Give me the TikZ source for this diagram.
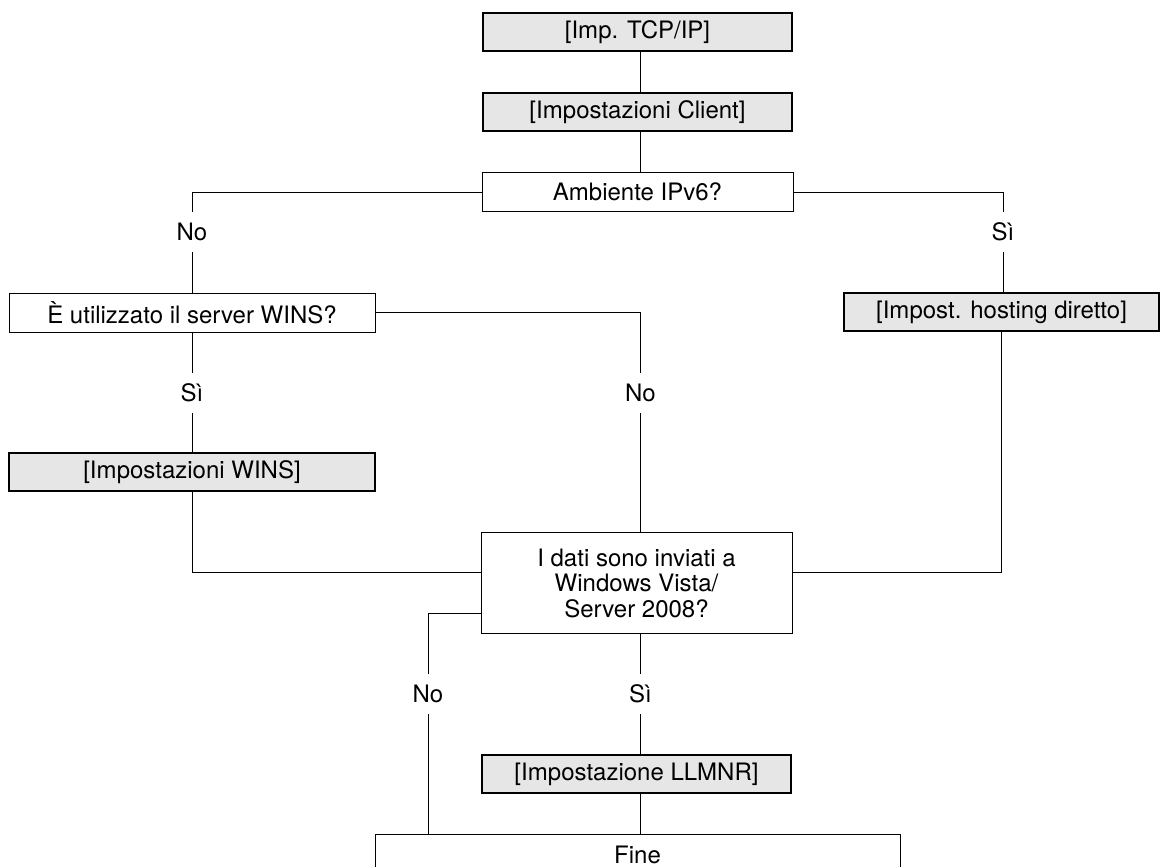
\documentclass[tikz,border=0pt]{standalone}
\usepackage{fontspec}
\setmainfont{TeX Gyre Heros}
\definecolor{boxgrey}{RGB}{230,230,230}
\tikzset{
    greybox/.style={draw, line width=2.8pt, fill=boxgrey, inner sep=0pt, minimum height=38pt},
    whitebox/.style={draw, line width=0.9pt, fill=white, inner sep=0pt, minimum height=39pt},
    answer/.style={inner sep=0pt, minimum height=40pt, minimum width=40pt},
    link/.style={line width=0.9pt}
}
\begin{document}
\begin{tikzpicture}[x=1pt, y=-1pt, font=\fontsize{24}{25.5}\selectfont]
            \clip (0, 0) rectangle (1162, 867);
            \coordinate (mid) at (640.5, 0);
            \node[greybox, minimum width=309pt] (tcp) at (637.5, 32) {[Imp. TCP/IP]};
            \node[greybox, minimum width=309pt] (client) at (637.5, 112) {[Impostazioni Client]};
            \node[whitebox, minimum width=311pt] (ipv6) at (637.5, 192) {Ambiente IPv6?};
            \node[whitebox, minimum width=366pt] (winsq) at (192, 312.5) {È utilizzato il server WINS?};
            \node[greybox, minimum width=315pt] (host) at (1001.5, 312) {[Impost. hosting diretto]};
            \node[greybox, minimum width=366pt] (wins) at (192, 472) {[Impostazioni WINS]};
            \node[whitebox, minimum width=311pt, minimum height=101pt, align=center] (vista) at (636.5, 583)
                {I dati sono inviati a\\Windows Vista/\\Server 2008?};
            \node[greybox, minimum width=309pt] (llmnr) at (636.5, 774) {[Impostazione LLMNR]};
            \node[whitebox, minimum width=525pt, minimum height=42pt] (fine) at (637.5, 855) {Fine};

            \node[answer] (no1) at (192, 232) {No};
            \node[answer] (si1) at (1003, 232) {Sì};
            \node[answer] (si2) at (192, 393) {Sì};
            \node[answer] (no2) at (640.5, 393) {No};
            \node[answer] (no3) at (428, 694) {No};
            \node[answer] (si3) at (640.5, 694) {Sì};

            \draw[link] (tcp.south -| mid) -- (client.north -| mid);
            \draw[link] (client.south -| mid) -- (ipv6.north -| mid);
            \draw[link] (ipv6.west) -| (no1.north);
            \draw[link] (no1) -- (winsq);
            \draw[link] (ipv6.east) -| (si1.north);
            \draw[link] (si1.south) -- (si1.south |- host.north);
            \draw[link] (winsq) -- (si2);
            \draw[link] (si2) -- (wins);
            \draw[link] (winsq.east) -| (no2.north);
            \draw[link] (no2.south) -- (no2.south |- vista.north);
            \draw[link] (wins.south) |- ([yshift=11pt]vista.west);
            \draw[link] (host.south) |- ([yshift=11pt]vista.east);
            \draw[link] ([yshift=-30pt]vista.west) -| (no3.north);
            \draw[link] (no3.south) -- (no3.south |- fine.north);
            \draw[link] (vista.south -| si3) -- (si3.north);
            \draw[link] (si3.south) -- (si3.south |- llmnr.north);
            \draw[link] (llmnr.south -| si3) -- (si3 |- fine.north);
\end{tikzpicture}
\end{document}
